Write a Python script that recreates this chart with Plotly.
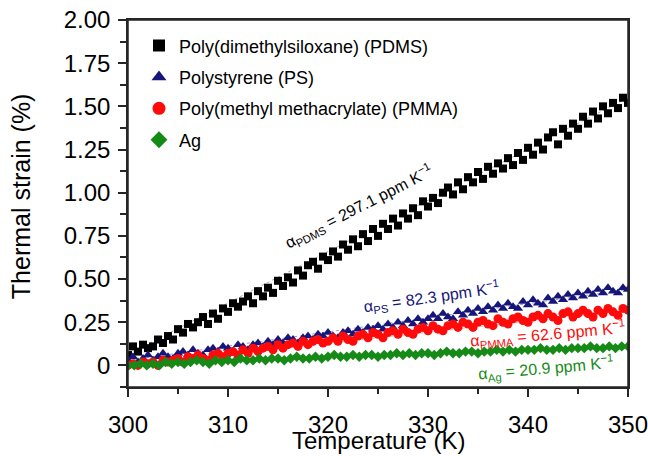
import plotly.graph_objects as go

# ---------------- data ----------------
T_STEP_A = [round(300 + 0.5 * i, 2) for i in range(101)]      # PDMS / PS / PMMA temperatures (K)
T_STEP_B = [round(300 + 0.625 * i, 3) for i in range(81)]     # Ag temperatures (K)

pdms = [0.06, 0.11, 0.08, 0.12, 0.10, 0.11, 0.15, 0.13, 0.17, 0.15,
        0.21, 0.19, 0.24, 0.22, 0.25, 0.28, 0.24, 0.30, 0.27, 0.33,
        0.31, 0.36, 0.34, 0.37, 0.40, 0.36, 0.43, 0.40, 0.45, 0.42,
        0.49, 0.46, 0.51, 0.48, 0.55, 0.52, 0.58, 0.60, 0.56, 0.63,
        0.61, 0.66, 0.63, 0.70, 0.67, 0.73, 0.69, 0.76, 0.72, 0.79,
        0.75, 0.82, 0.79, 0.85, 0.81, 0.88, 0.85, 0.91, 0.87, 0.95,
        0.92, 0.97, 0.94, 1.00, 1.03, 0.99, 1.06, 1.02, 1.09, 1.06,
        1.12, 1.08, 1.15, 1.11, 1.17, 1.14, 1.20, 1.16, 1.23, 1.19,
        1.26, 1.22, 1.29, 1.25, 1.32, 1.35, 1.28, 1.37, 1.33, 1.40,
        1.37, 1.44, 1.40, 1.47, 1.43, 1.50, 1.46, 1.52, 1.49, 1.55,
        1.52]

ps = [0.03, 0.05, 0.02, 0.04, 0.06, 0.03, 0.05, 0.07, 0.05, 0.04,
      0.07, 0.08, 0.06, 0.09, 0.07, 0.06, 0.09, 0.10, 0.08, 0.11,
      0.10, 0.08, 0.12, 0.11, 0.09, 0.12, 0.13, 0.11, 0.14, 0.12,
      0.15, 0.13, 0.16, 0.15, 0.13, 0.16, 0.17, 0.15, 0.18, 0.17,
      0.19, 0.17, 0.16, 0.19, 0.20, 0.18, 0.21, 0.19, 0.22, 0.21,
      0.23, 0.21, 0.24, 0.22, 0.25, 0.23, 0.26, 0.24, 0.27, 0.25,
      0.27, 0.29, 0.27, 0.30, 0.28, 0.27, 0.31, 0.29, 0.32, 0.30,
      0.33, 0.31, 0.34, 0.32, 0.35, 0.33, 0.36, 0.34, 0.33, 0.37,
      0.35, 0.38, 0.36, 0.35, 0.39, 0.37, 0.40, 0.38, 0.41, 0.39,
      0.42, 0.40, 0.43, 0.41, 0.44, 0.42, 0.45, 0.43, 0.42, 0.45,
      0.44]

pmma = [0.00, 0.01, 0.00, 0.02, 0.01, 0.02, 0.00, 0.03, 0.02, 0.03,
        0.04, 0.02, 0.05, 0.04, 0.06, 0.04, 0.03, 0.06, 0.07, 0.05,
        0.07, 0.08, 0.06, 0.09, 0.07, 0.10, 0.08, 0.10, 0.11, 0.09,
        0.12, 0.10, 0.12, 0.13, 0.11, 0.14, 0.12, 0.14, 0.15, 0.13,
        0.14, 0.16, 0.14, 0.17, 0.15, 0.14, 0.17, 0.18, 0.16, 0.19,
        0.18, 0.16, 0.19, 0.20, 0.18, 0.21, 0.19, 0.18, 0.21, 0.22,
        0.20, 0.23, 0.21, 0.20, 0.23, 0.24, 0.22, 0.25, 0.24, 0.22,
        0.25, 0.26, 0.24, 0.23, 0.27, 0.25, 0.24, 0.27, 0.28, 0.26,
        0.25, 0.28, 0.29, 0.27, 0.30, 0.28, 0.26, 0.30, 0.31, 0.28,
        0.30, 0.32, 0.30, 0.28, 0.32, 0.30, 0.33, 0.31, 0.29, 0.33,
        0.32]

ag = [0.00, 0.00, 0.01, 0.00, 0.01, 0.00, 0.02, 0.01, 0.02, 0.01,
      0.02, 0.03, 0.02, 0.01, 0.03, 0.02, 0.03, 0.02, 0.04, 0.03,
      0.03, 0.04, 0.03, 0.04, 0.04, 0.03, 0.04, 0.05, 0.04, 0.04,
      0.05, 0.04, 0.05, 0.06, 0.05, 0.05, 0.06, 0.05, 0.06, 0.06,
      0.05, 0.06, 0.06, 0.07, 0.06, 0.07, 0.06, 0.07, 0.07, 0.06,
      0.07, 0.08, 0.07, 0.07, 0.08, 0.08, 0.07, 0.08, 0.08, 0.09,
      0.08, 0.09, 0.08, 0.09, 0.09, 0.09, 0.10, 0.09, 0.09, 0.10,
      0.09, 0.10, 0.10, 0.10, 0.11, 0.10, 0.10, 0.11, 0.10, 0.11,
      0.11]

# linear fits (end points)
FIT_T = [300, 350]
fit_pdms = [0.065, 1.55]
fit_ps = [0.03, 0.44]
fit_pmma = [0.0, 0.32]
fit_ag = [0.0, 0.105]

names = ["Poly(dimethylsiloxane) (PDMS)", "Polystyrene (PS)",
         "Poly(methyl methacrylate) (PMMA)", "Ag"]

y_tickvals = [0, 0.25, 0.5, 0.75, 1.0, 1.25, 1.5, 1.75, 2.0]
x_tickvals = [300, 310, 320, 330, 340, 350]
x_title = "Temperature (K)"
y_title = "Thermal strain (%)"

# ---------------- styles ----------------
FONT = "Liberation Sans, Arial, Helvetica, sans-serif"
C_PDMS = "#000000"
C_PS = "#16167a"
C_PMMA = "#ff0a0a"
C_AG = "#168a16"

fig = go.Figure()

# faint fit lines
for yy, col in [(fit_pdms, "#b0b0b0"), (fit_ps, "#9a9ad0"),
                (fit_pmma, "#ffb0b0"), (fit_ag, "#a0d8a0")]:
    fig.add_trace(go.Scatter(x=FIT_T, y=yy, mode="lines",
                             line=dict(color=col, width=1, dash="dot"),
                             showlegend=False, hoverinfo="skip"))

series = [
    (T_STEP_A, pdms, "square", C_PDMS, 8, 12),
    (T_STEP_A, ps, "triangle-up", C_PS, 9, 13),
    (T_STEP_A, pmma, "circle", C_PMMA, 9, 13),
    (T_STEP_B, ag, "diamond", C_AG, 8, 13),
]
for (xx, yy, sym, col, sz, lsz), nm in zip(series, names):
    fig.add_trace(go.Scatter(x=xx, y=yy, mode="markers", name=nm,
                             marker=dict(symbol=sym, color=col, size=sz, line=dict(width=0)),
                             showlegend=False))
    # legend-only entry with larger symbol
    fig.add_trace(go.Scatter(x=[None], y=[None], mode="markers", name=nm,
                             legendgroup=nm,
                             marker=dict(symbol=sym, color=col, size=lsz, line=dict(width=0)),
                             showlegend=True))

ann_font = 16
annotations = [
    dict(x=323.0, y=0.92, text="α<sub>PDMS</sub> = 297.1 ppm K<sup>−1</sup>",
         textangle=-27, font=dict(color=C_PDMS, size=ann_font, family=FONT)),
    dict(x=330.3, y=0.395, text="α<sub>PS</sub> = 82.3 ppm K<sup>−1</sup>",
         textangle=-8, font=dict(color=C_PS, size=ann_font, family=FONT)),
    dict(x=342.0, y=0.18, text="α<sub>PMMA</sub> = 62.6 ppm K<sup>−1</sup>",
         textangle=-5, font=dict(color=C_PMMA, size=ann_font, family=FONT)),
    dict(x=341.8, y=-0.015, text="α<sub>Ag</sub> = 20.9 ppm K<sup>−1</sup>",
         textangle=-5, font=dict(color=C_AG, size=ann_font, family=FONT)),
]
for a in annotations:
    fig.add_annotation(xref="x", yref="y", showarrow=False,
                       xanchor="center", yanchor="middle", **a)

# axis titles as paper annotations
fig.add_annotation(xref="paper", yref="paper", x=0.5, y=-0.147, text=x_title,
                   showarrow=False, xanchor="center", yanchor="middle",
                   font=dict(size=24, family=FONT, color="black"))
fig.add_annotation(xref="paper", yref="paper", x=-0.214, y=0.52, text=y_title,
                   textangle=-90, showarrow=False, xanchor="center", yanchor="middle",
                   font=dict(size=25, family=FONT, color="black"))

AX_COL = "#262626"
# plot frame
fig.add_shape(type="rect", xref="paper", yref="paper", x0=0, y0=0, x1=1, y1=1,
              line=dict(color=AX_COL, width=1.5), layer="above")

fig.update_layout(
    width=648, height=456,
    margin=dict(l=128, r=20, t=20, b=69, autoexpand=False),
    paper_bgcolor="white", plot_bgcolor="white",
    font=dict(family=FONT, color="black", size=24),
    legend=dict(x=0.022, y=0.98, xanchor="left", yanchor="top",
                bgcolor="rgba(0,0,0,0)", font=dict(size=18, family=FONT),
                tracegroupgap=5, itemsizing="trace"),
    xaxis=dict(range=[300, 350], tickvals=x_tickvals, ticks="outside",
               ticklen=8, tickwidth=1.5, tickcolor=AX_COL,
               showline=True, linewidth=1.5, linecolor=AX_COL, mirror=True,
               showgrid=False, zeroline=False, ticklabeloverflow="allow",
               ticklabelstandoff=7, automargin=False,
               tickfont=dict(size=24),
               minor=dict(dtick=5, tick0=300, ticks="outside", ticklen=5,
                          tickwidth=1.5, tickcolor=AX_COL, showgrid=False)),
    yaxis=dict(range=[-0.125, 2.0], tickvals=y_tickvals, tickformat=".2f",
               labelalias={"0.00": "0"},
               ticks="outside", ticklen=8, tickwidth=1.5, tickcolor=AX_COL,
               showline=True, linewidth=1.5, linecolor=AX_COL, mirror=True,
               showgrid=False, zeroline=False, automargin=False,
               ticklabelstandoff=3, ticklabeloverflow="allow",
               tickfont=dict(size=24),
               minor=dict(dtick=0.125, tick0=0, ticks="outside", ticklen=6,
                          tickwidth=1.5, tickcolor=AX_COL, showgrid=False)),
)

# remove the browser's default 8 px body margin so the figure sits at the page origin
fig.write_html("out.html", config={"displayModeBar": False},
               post_script="document.body.style.margin='0';document.body.style.overflow='hidden';")
